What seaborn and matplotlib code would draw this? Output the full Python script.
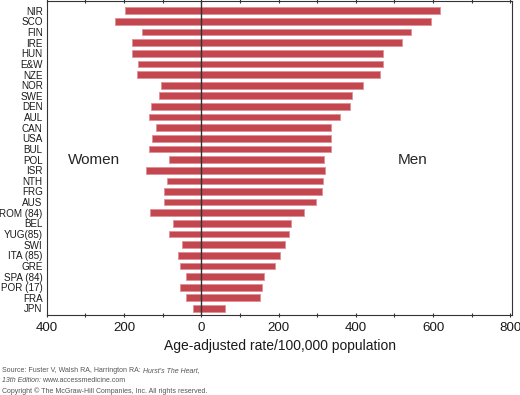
"""Coronary heart disease mortality by country, women vs men (mirrored bars)."""

import matplotlib
matplotlib.use("Agg")
import matplotlib.pyplot as plt
import matplotlib.ticker as mticker
import pandas as pd
import seaborn as sns

countries = [
    "NIR", "SCO", "FIN", "IRE", "HUN", "E&W", "NZE", "NOR", "SWE", "DEN",
    "AUL", "CAN", "USA", "BUL", "POL", "ISR", "NTH", "FRG", "AUS", "ROM (84)",
    "BEL", "YUG(85)", "SWI", "ITA (85)", "GRE", "SPA (84)", "POR (17)", "FRA", "JPN",
]
men = [617, 594, 544, 520, 471, 471, 462, 418, 389, 385,
       358, 336, 336, 336, 319, 320, 314, 313, 296, 265,
       232, 226, 216, 205, 191, 162, 156, 152, 62]
women = [198, 223, 154, 179, 179, 163, 167, 104, 109, 130,
         135, 116, 127, 136, 83, 144, 89, 97, 97, 132,
         73, 84, 50, 61, 55, 40, 56, 40, 21]
tick_values = [-400, -200, 0, 200, 400, 600, 800]

sns.set_style("white")
plt.rcParams["font.family"] = ["Liberation Sans", "DejaVu Sans"]

df = pd.DataFrame({"country": countries, "men": men,
                   "women": [-w for w in women]})

fig = plt.figure(figsize=(5.2, 3.95), dpi=100)
ax = fig.add_axes([0.09, 0.2025, 0.895, 0.795])

bar_color = "#c4464f"
edge_color = "#de8f98"
for col in ["men", "women"]:
    sns.barplot(data=df, x=col, y="country", orient="h", ax=ax,
                color=bar_color, edgecolor=edge_color, linewidth=0.6,
                width=0.63, saturation=1)

ax.axvline(0, color="#333333", lw=1.0, zorder=5)
ax.set_xlim(-400, 805)
ax.set_ylim(28.62, -0.92)

ax.xaxis.set_major_locator(mticker.FixedLocator(tick_values))
ax.xaxis.set_minor_locator(mticker.MultipleLocator(100))
ax.xaxis.set_major_formatter(mticker.FuncFormatter(lambda x, _: f"{abs(x):.0f}"))
ax.tick_params(axis="x", which="both", bottom=True, top=True, direction="out",
               length=3.5, width=0.8, color="#333333", labelsize=9.6, pad=3,
               labelcolor="#1a1a1a")
ax.tick_params(axis="x", which="both", top=True, direction="inout")
ax.tick_params(axis="y", length=0, labelsize=7.1, pad=3, labelcolor="#1a1a1a")
for s in ax.spines.values():
    s.set_color("#333333")
    s.set_linewidth(0.8)

ax.set_xlabel("Age-adjusted rate/100,000 population", fontsize=10, labelpad=4,
              color="#1a1a1a")
ax.set_ylabel("")

ax.text(-346, 14, "Women", fontsize=11, va="center", ha="left")
ax.text(508, 14, "Men", fontsize=11, va="center", ha="left")

# source lines: chain normal and italic pieces side by side
renderer = fig.canvas.get_renderer()
src_kw = dict(fontsize=5.0, color="#555555")
lines = [
    (0.057, [("Source: Fuster V, Walsh RA, Harrington RA: ", "normal"),
             ("Hurst's The Heart,", "italic")]),
    (0.034, [("13th Edition:", "italic"), (" www.accessmedicine.com", "normal")]),
    (0.006, [("Copyright \u00a9 The McGraw-Hill Companies, Inc. All rights reserved.",
              "normal")]),
]
for y, pieces in lines:
    x = 0.004
    for txt, style in pieces:
        t = fig.text(x, y, txt, style=style, **src_kw)
        bb = t.get_window_extent(renderer=renderer)
        x += bb.width / fig.bbox.width

fig.savefig("out.png", dpi=100)
plt.close(fig)
